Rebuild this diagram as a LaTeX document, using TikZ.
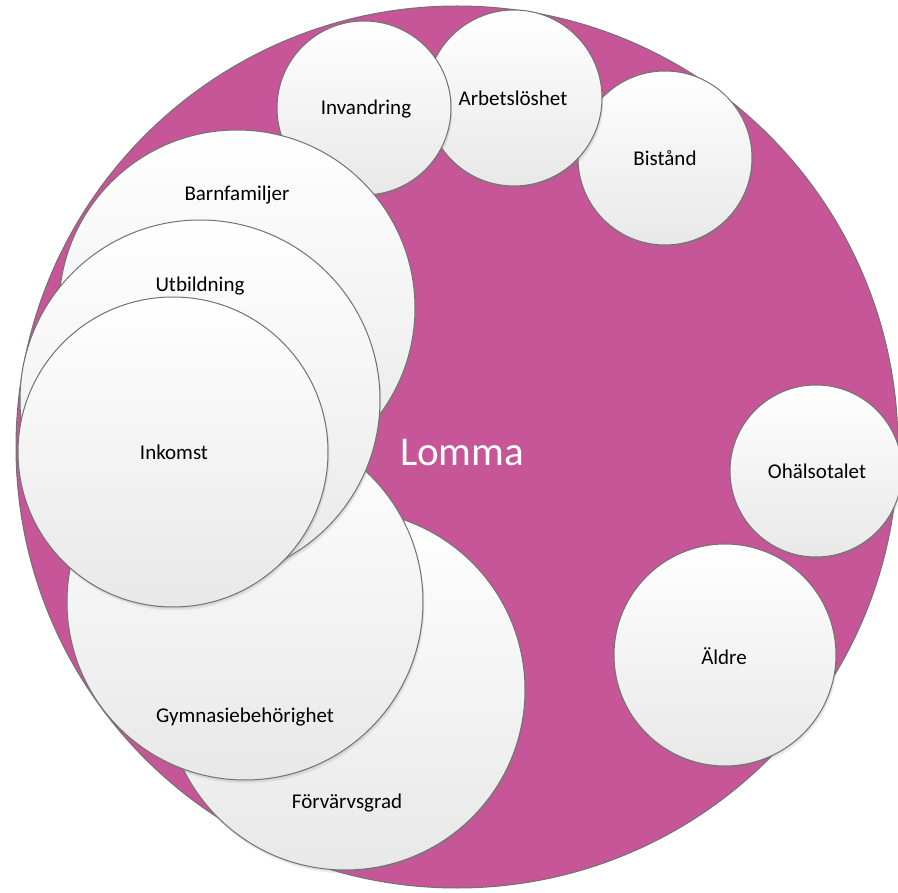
\documentclass[tikz,border=0pt]{standalone}
\usepackage{fontspec}
\setmainfont{Carlito}
\usetikzlibrary{shadows}
\definecolor{lommapink}{HTML}{C65697}
\definecolor{rimgray}{HTML}{727272}
\definecolor{ballbottom}{HTML}{E8E8E8}
\tikzset{
  bigdisc/.style={circle, inner sep=0pt, fill=lommapink, draw=rimgray, line width=1pt},
  ball/.style={circle, inner sep=0pt, draw=rimgray, line width=1pt,
    top color=white, bottom color=ballbottom,
    drop shadow={opacity=0.12, shadow xshift=1pt, shadow yshift=-2pt},
    drop shadow={opacity=0.12, shadow xshift=1.5pt, shadow yshift=-3.5pt}},
  lbl/.style={inner sep=0pt, font=\fontsize{21}{25}\selectfont, text=black},
  title/.style={inner sep=0pt, font=\fontsize{41}{48}\selectfont, text=white}
}
\begin{document}
\begin{tikzpicture}[x=1pt, y=-1pt]
\useasboundingbox (0,0) rectangle (898,893);
\node[bigdisc, minimum size=882pt] (lomma) at (457,447) {};
\node[title] (lommatext) at (462,452) {Lomma};
% top row
\node[ball, minimum size=174pt] (bistand) at (665,158) {};
\node[lbl] (bistandtext) at (665,158) {Bistånd};
\node[ball, minimum size=176pt] (arbets) at (514,98) {};
\node[lbl] (arbetstext) at (513,98) {Arbetslöshet};
\node[ball, minimum size=174pt] (invand) at (364,108) {};
\node[lbl] (invandtext) at (366,109) {Invandring};
% right side
\node[ball, minimum size=172pt] (ohals) at (816,471) {};
\node[lbl] (ohalstext) at (817,471) {Ohälsotalet};
\node[ball, minimum size=222pt] (aldre) at (725,655) {};
\node[lbl] (aldretext) at (724,656) {Äldre};
% left cluster
\node[ball, minimum size=360pt] (forv) at (345,690) {};
\node[lbl] (forvtext) at (347,803) {Förvärvsgrad};
\node[ball, minimum size=356pt] (gymn) at (245,602) {};
\node[lbl] (gymntext) at (245,717) {Gymnasiebehörighet};
\node[ball, minimum size=356pt] (barn) at (237,308) {};
\node[lbl] (barntext) at (237,195) {Barnfamiljer};
\node[ball, minimum size=360pt] (utb) at (200,400) {};
\node[lbl] (utbtext) at (200,286) {Utbildning};
\node[ball, minimum size=310pt] (inkomst) at (173,452) {};
\node[lbl] (inkomsttext) at (174,452) {Inkomst};
\end{tikzpicture}
\end{document}
